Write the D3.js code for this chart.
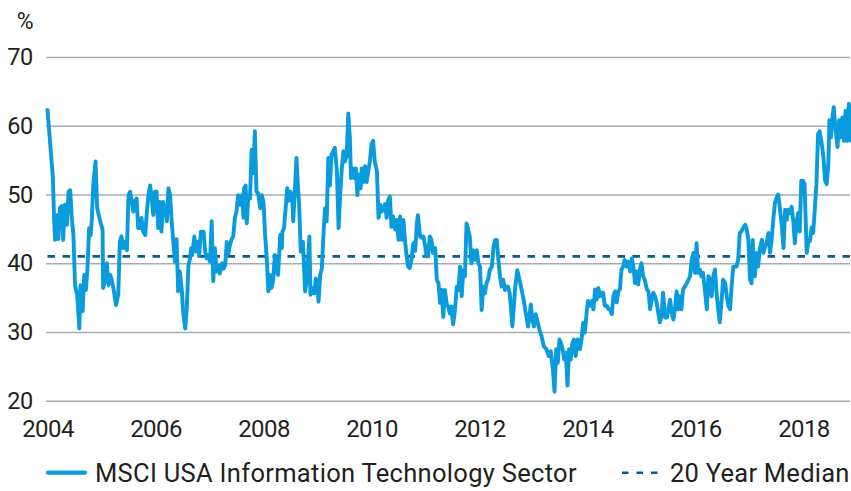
<!DOCTYPE html>
<html>
<head>
<meta charset="utf-8">
<script src="https://cdn.jsdelivr.net/npm/d3@7"></script>
<style>
  html, body { margin: 0; padding: 0; background: #fff; }
  svg { display: block; }
  text { font-family: Roboto, "Open Sans", sans-serif; fill: #231f20; }
</style>
</head>
<body>
<div id="chart"></div>
<script>
// ---- data ----
const seriesName = "MSCI USA Information Technology Sector";
const medianName = "20 Year Median";
const medianValue = 41;
const yTicks = [20, 30, 40, 50, 60, 70];
const xTicks = [2004, 2006, 2008, 2010, 2012, 2014, 2016, 2018];
const unitLabel = "%";

const dates = [
2004.00,2004.10,2004.12,2004.14,2004.18,2004.20,2004.23,2004.26,2004.28,2004.29,2004.32,2004.36,2004.39,2004.42,2004.45,2004.48,2004.51,2004.55,2004.59,2004.61,2004.65,2004.68,2004.71,2004.74,2004.77,2004.80,2004.82,2004.85,2004.89,2004.92,2004.97,
2005.02,2005.03,2005.06,2005.10,2005.13,2005.16,2005.19,2005.22,2005.27,2005.31,2005.34,2005.37,2005.40,2005.44,2005.47,2005.50,2005.53,2005.56,2005.59,2005.62,2005.65,2005.68,2005.71,2005.74,2005.77,2005.81,2005.84,2005.87,2005.90,2005.93,2005.96,2005.99,
2006.02,2006.05,2006.08,2006.11,2006.14,2006.18,2006.21,2006.24,2006.27,2006.30,2006.33,2006.36,2006.39,2006.42,2006.45,2006.49,2006.51,2006.55,2006.58,2006.61,2006.64,2006.66,2006.68,2006.72,2006.74,2006.78,2006.81,2006.84,2006.89,2006.92,2006.95,2006.98,
2007.01,2007.04,2007.07,2007.10,2007.13,2007.16,2007.19,2007.23,2007.26,2007.29,2007.32,2007.35,2007.38,2007.41,2007.44,2007.47,2007.50,2007.53,2007.56,2007.60,2007.63,2007.64,2007.67,2007.69,2007.72,2007.75,2007.78,2007.81,2007.84,2007.87,2007.90,2007.94,2007.97,
2008.00,2008.03,2008.06,2008.09,2008.12,2008.15,2008.18,2008.21,2008.24,2008.27,2008.31,2008.34,2008.35,2008.38,2008.41,2008.44,2008.47,2008.50,2008.53,2008.55,2008.58,2008.61,2008.64,2008.66,2008.69,2008.73,2008.75,2008.77,2008.80,2008.83,2008.85,2008.87,2008.91,2008.94,2008.97,
2009.00,2009.02,2009.05,2009.08,2009.11,2009.14,2009.17,2009.20,2009.23,2009.26,2009.29,2009.32,2009.36,2009.39,2009.42,2009.45,2009.48,2009.51,2009.54,2009.57,2009.60,2009.62,2009.65,2009.68,2009.71,2009.74,2009.77,2009.80,2009.82,2009.85,2009.88,2009.91,2009.94,2009.97,
2010.00,2010.03,2010.06,2010.10,2010.13,2010.16,2010.19,2010.22,2010.25,2010.28,2010.31,2010.34,2010.37,2010.40,2010.44,2010.47,2010.50,2010.53,2010.56,2010.59,2010.62,2010.65,2010.68,2010.71,2010.74,2010.77,2010.79,2010.81,2010.84,2010.86,2010.90,2010.93,2010.96,2010.99,
2011.02,2011.05,2011.08,2011.11,2011.14,2011.18,2011.21,2011.24,2011.27,2011.30,2011.33,2011.36,2011.39,2011.42,2011.45,2011.48,2011.51,2011.54,2011.58,2011.61,2011.64,2011.67,2011.70,2011.73,2011.76,2011.79,2011.82,2011.85,2011.88,2011.92,2011.95,2011.98,
2012.01,2012.04,2012.07,2012.10,2012.13,2012.16,2012.19,2012.23,2012.26,2012.29,2012.32,2012.35,2012.38,2012.41,2012.44,2012.47,2012.50,2012.53,2012.56,2012.61,2012.66,2012.70,2012.75,2012.81,2012.86,2012.90,2012.95,2012.98,
2013.01,2013.04,2013.07,2013.11,2013.15,2013.19,2013.24,2013.28,2013.32,2013.36,2013.39,2013.42,2013.45,2013.48,2013.51,2013.54,2013.57,2013.60,2013.63,2013.66,2013.69,2013.72,2013.75,2013.78,2013.82,2013.86,2013.89,2013.92,2013.95,2013.99,
2014.01,2014.05,2014.08,2014.11,2014.14,2014.17,2014.20,2014.23,2014.26,2014.29,2014.32,2014.36,2014.39,2014.42,2014.45,2014.48,2014.51,2014.54,2014.57,2014.60,2014.63,2014.66,2014.69,2014.73,2014.76,2014.79,2014.82,2014.85,2014.88,2014.91,2014.94,2014.97,
2015.00,2015.03,2015.06,2015.10,2015.13,2015.16,2015.19,2015.22,2015.25,2015.28,2015.31,2015.34,2015.37,2015.40,2015.44,2015.47,2015.50,2015.53,2015.56,2015.59,2015.62,2015.65,2015.68,2015.71,2015.74,2015.77,2015.81,2015.84,2015.87,2015.90,2015.93,2015.96,2015.99,
2016.02,2016.05,2016.08,2016.11,2016.14,2016.18,2016.21,2016.24,2016.27,2016.30,2016.33,2016.36,2016.39,2016.42,2016.45,2016.49,2016.51,2016.55,2016.58,2016.61,2016.64,2016.67,2016.70,2016.73,2016.76,2016.79,2016.82,2016.85,2016.88,2016.92,2016.95,2016.98,
2017.01,2017.04,2017.06,2017.08,2017.10,2017.13,2017.16,2017.19,2017.23,2017.26,2017.29,2017.32,2017.35,2017.38,2017.41,2017.44,2017.47,2017.50,2017.53,2017.56,2017.60,2017.63,2017.66,2017.69,2017.72,2017.75,2017.78,2017.81,2017.84,2017.87,2017.90,2017.93,2017.96,2017.99,
2018.02,2018.06,2018.09,2018.12,2018.15,2018.18,2018.21,2018.24,2018.27,2018.30,2018.33,2018.37,2018.40,2018.43,2018.46,2018.48,2018.51,2018.53,2018.56,2018.59,2018.63,2018.66,2018.69,2018.72,2018.75,2018.78,2018.81,2018.84,2018.88
];

const values = [
62.3,52.4,47.0,43.4,47.0,43.5,48.0,48.3,45.6,43.4,48.5,45.6,50.4,50.6,46.6,44.1,36.8,35.4,30.5,36.8,33.0,38.3,36.1,39.2,45.1,44.1,46.3,51.6,54.8,48.0,46.3,
44.9,36.4,37.4,40.0,36.8,38.3,37.6,36.4,33.9,35.4,43.1,43.9,42.2,43.1,41.9,49.9,50.4,48.9,47.5,49.1,49.4,45.1,45.1,46.6,44.6,44.1,47.5,49.9,51.3,49.4,47.0,50.4,
50.4,45.1,48.9,44.6,48.9,48.0,46.1,50.9,49.9,46.1,43.1,40.2,43.5,35.9,38.8,35.9,33.0,30.5,33.5,39.7,40.7,42.2,41.2,43.9,41.7,43.1,41.2,44.6,44.6,41.7,40.7,41.2,
40.2,46.1,37.4,42.2,38.8,39.7,38.5,40.0,39.2,39.7,43.1,41.4,42.7,43.5,43.9,46.6,47.5,49.9,48.5,49.9,46.6,50.9,51.3,45.8,49.9,49.4,56.5,53.1,59.2,50.4,50.2,48.0,49.9,
48.9,44.1,40.7,35.9,38.3,36.4,37.6,41.2,39.2,38.3,44.1,42.2,44.6,45.1,48.0,50.9,49.1,50.4,49.9,46.1,50.4,55.3,50.9,48.5,41.7,43.1,39.7,35.9,37.4,41.2,43.9,35.4,36.4,35.6,37.8,
36.4,34.4,38.3,39.2,44.1,48.0,46.1,55.3,51.3,55.8,56.3,56.8,53.4,45.1,49.9,53.8,56.3,54.8,55.6,61.8,58.2,52.4,53.8,52.4,53.8,49.9,52.9,50.9,53.8,51.8,54.1,51.8,53.4,54.8,
57.3,57.8,54.8,53.4,46.6,48.5,47.5,48.0,48.6,46.6,49.2,49.7,45.3,46.8,44.9,46.3,43.4,46.8,43.4,46.3,43.4,41.0,39.5,39.3,40.5,42.7,43.0,41.8,45.8,47.0,43.9,43.7,43.9,42.7,
41.0,41.0,43.9,43.4,41.5,42.2,37.6,37.1,34.2,36.1,32.2,36.1,34.2,33.7,32.7,33.7,31.1,32.7,36.6,36.1,39.5,35.2,39.0,38.1,45.8,44.9,43.9,40.0,41.9,40.5,41.9,40.0,
39.5,33.2,36.6,35.6,37.1,37.6,39.0,39.5,42.4,43.4,43.4,40.5,38.1,36.6,37.6,36.1,36.6,36.6,35.6,30.8,36.4,39.0,37.3,35.0,32.6,30.8,34.0,31.7,
30.8,32.6,31.7,30.3,29.4,27.9,27.5,26.5,27.2,24.5,21.3,27.5,25.5,28.9,28.4,27.5,26.0,27.0,22.2,27.5,26.0,28.4,28.9,26.5,28.9,27.5,28.9,31.3,29.9,33.3,
34.5,33.8,34.5,33.3,36.2,34.7,36.4,35.2,35.7,35.7,33.8,33.8,33.3,33.3,32.6,35.2,35.9,34.3,35.9,36.2,39.1,39.5,40.5,39.5,40.2,38.8,40.7,39.5,37.1,38.8,36.9,39.1,
40.0,38.1,37.6,36.2,35.9,33.3,34.7,35.7,35.2,34.3,32.8,31.4,32.3,35.7,32.1,32.1,33.3,34.7,32.8,31.8,33.3,35.9,33.3,35.2,33.3,36.2,36.7,37.1,37.6,38.1,40.5,41.5,38.6,
42.9,38.6,39.1,38.1,38.6,35.7,33.3,38.1,37.6,35.2,38.1,39.1,35.7,33.3,31.4,35.2,37.6,37.1,35.2,33.8,33.3,36.7,39.5,39.5,39.5,40.5,44.4,44.6,45.1,45.6,44.9,43.4,
37.6,37.1,43.4,38.6,38.1,41.5,39.5,42.0,43.4,41.5,42.5,43.0,44.4,41.5,43.4,46.3,48.7,49.5,50.0,48.2,45.4,42.2,47.8,46.3,47.8,47.3,48.2,46.3,42.9,45.9,47.3,44.6,52.0,52.0,
51.5,41.5,43.2,43.2,45.2,44.4,47.9,51.5,58.8,59.2,57.8,55.4,52.0,51.5,54.4,60.8,58.3,60.8,62.7,59.8,56.9,60.8,58.3,61.2,57.8,62.2,57.8,63.2,57.8
];

// ---- chart ----
const W = 851, H = 491;
const svg = d3.select("#chart").append("svg").attr("width", W).attr("height", H);

const plotLeft = 47.5, plotRight = 851, gridRight = 850;
const x = d3.scaleLinear().domain([2004, 2018.88]).range([plotLeft, plotRight]);
const y = d3.scaleLinear().domain([20, 70]).range([400.7, 57]);

// y axis with gridlines
const yAxis = d3.axisLeft(y).tickValues(yTicks).tickFormat(d3.format("d"))
  .tickSizeInner(-(gridRight - 46)).tickSizeOuter(0).tickPadding(13);
const gy = svg.append("g").attr("transform", `translate(46,0)`).call(yAxis);
gy.select(".domain").remove();
gy.selectAll(".tick line").attr("stroke", "#a3adb5").attr("stroke-width", 1.4);
gy.selectAll(".tick text").attr("font-size", 23.5).attr("fill", "#231f20")
  .attr("font-family", "Roboto, sans-serif").attr("letter-spacing", "-0.3");

// unit label
svg.append("text").attr("x", 33.5).attr("y", 28.5).attr("text-anchor", "end")
  .attr("font-size", 23).text(unitLabel);

// x axis
const xAxis = d3.axisBottom(x).tickValues(xTicks).tickFormat(d3.format("d"))
  .tickSize(0).tickPadding(19);
const gx = svg.append("g").attr("transform", `translate(0,${y(20)})`).call(xAxis);
gx.select(".domain").remove();
gx.selectAll(".tick text").attr("font-size", 24).attr("fill", "#231f20")
  .attr("font-family", "Roboto, sans-serif").attr("letter-spacing", "-0.6");

// median dashed line
svg.append("line")
  .attr("x1", plotLeft).attr("x2", gridRight)
  .attr("y1", y(medianValue)).attr("y2", y(medianValue))
  .attr("stroke", "#0b5c8e").attr("stroke-width", 2.6)
  .attr("stroke-dasharray", "7.5,7.5");

// series line
const data = dates.map((d, i) => ({ d, v: values[i] }));
const line = d3.line().x(p => x(p.d)).y(p => y(p.v));
svg.append("path").datum(data)
  .attr("d", line)
  .attr("fill", "none")
  .attr("stroke", "#0a9bdc")
  .attr("stroke-width", 3.9)
  .attr("stroke-linejoin", "round")
  .attr("stroke-linecap", "round");

// legend
const ly = 472.7;
const leg = svg.append("g");
leg.append("line").attr("x1", 48).attr("x2", 85).attr("y1", ly).attr("y2", ly)
  .attr("stroke", "#0a9bdc").attr("stroke-width", 4.2).attr("stroke-linecap", "round");
leg.append("text").attr("x", 95).attr("y", 481.5).attr("font-size", 25.5)
  .attr("letter-spacing", "0.3").text(seriesName);
leg.append("line").attr("x1", 622).attr("x2", 659).attr("y1", ly).attr("y2", ly)
  .attr("stroke", "#0b5c8e").attr("stroke-width", 2.6).attr("stroke-dasharray", "6.5,8");
leg.append("text").attr("x", 670).attr("y", 481.5).attr("font-size", 25.5)
  .attr("letter-spacing", "0.25").text(medianName);
</script>
</body>
</html>
